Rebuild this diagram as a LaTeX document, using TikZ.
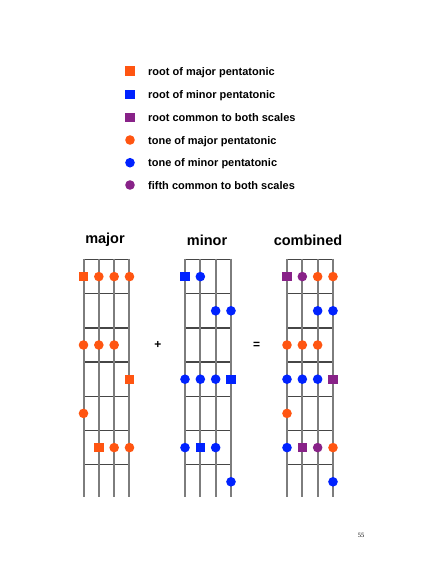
\documentclass[tikz,border=0pt]{standalone}
\usepackage{fontspec}
\setmainfont{Liberation Sans}
\newfontfamily\pnfont{Liberation Serif}
\definecolor{orng}{RGB}{255,85,17}
\definecolor{blu}{RGB}{0,34,255}
\definecolor{purp}{RGB}{136,34,136}
\definecolor{strg}{RGB}{125,125,125}
\definecolor{fretc}{RGB}{70,70,70}
\tikzset{
  dotm/.style={circle, minimum size=9.6pt, inner sep=0pt, draw=none},
  sqm/.style={rectangle, minimum size=9.4pt, inner sep=0pt, draw=none},
  legtext/.style={anchor=base west, inner sep=0pt, font=\fontsize{11}{13}\selectfont\bfseries},
  ttl/.style={inner sep=0pt, font=\fontsize{14.5}{17}\selectfont\bfseries},
  fretline/.style={draw=fretc, line width=1.5pt},
  stringline/.style={draw=strg, line width=2pt},
}
\newcommand\drawboard[1]{%
  \foreach \k in {0,...,6} \draw[fretline] (#1,{259.5+34.2*\k}) -- ({#1+46},{259.5+34.2*\k});
  \foreach \s in {0,...,3} \draw[stringline] ({#1+15.33*\s},258.8) -- ({#1+15.33*\s},497);
}
\begin{document}
\begin{tikzpicture}[x=1pt,y=-1pt]
\useasboundingbox[fill=white] (0,0) rectangle (427,565);
% legend
\node[sqm, fill=orng] (l1) at (130,71) {};
\node[sqm, fill=blu] (l2) at (130,94.5) {};
\node[sqm, fill=purp] (l3) at (130,117.3) {};
\node[dotm, fill=orng] (l4) at (130,140) {};
\node[dotm, fill=blu] (l5) at (130,162.7) {};
\node[dotm, fill=purp] (l6) at (130,185) {};
\node[legtext] (t1) at (148,75) {root of major pentatonic};
\node[legtext] (t2) at (148,98.5) {root of minor pentatonic};
\node[legtext] (t3) at (148,121.3) {root common to both scales};
\node[legtext] (t4) at (148,144) {tone of major pentatonic};
\node[legtext] (t5) at (148,166.7) {tone of minor pentatonic};
\node[legtext] (t6) at (148,189) {fifth common to both scales};
% titles
\node[ttl] (tmaj) at (105,240) {major};
\node[ttl] (tmin) at (207,240) {minor};
\node[ttl] (tcom) at (308,240) {combined};
\node[ttl, font=\fontsize{12}{14}\selectfont\bfseries] (plus) at (158,345) {+};
\node[ttl, font=\fontsize{12}{14}\selectfont\bfseries] (eq) at (256.7,345) {=};
% boards
\drawboard{83.5}
\drawboard{185}
\drawboard{287}
% major
\foreach \r/\s in {1/1,4/4,6/2}
  \node[sqm, fill=orng] (ma-\r-\s) at ({83.5+15.33*(\s-1)},{276.6+34.2*(\r-1)}) {};
\foreach \r/\s in {1/2,1/3,1/4,3/1,3/2,3/3,5/1,6/3,6/4}
  \node[dotm, fill=orng] (ma-\r-\s) at ({83.5+15.33*(\s-1)},{276.6+34.2*(\r-1)}) {};
% minor
\foreach \r/\s in {1/1,4/4,6/2}
  \node[sqm, fill=blu] (mi-\r-\s) at ({185+15.33*(\s-1)},{276.6+34.2*(\r-1)}) {};
\foreach \r/\s in {1/2,2/3,2/4,4/1,4/2,4/3,6/1,6/3,7/4}
  \node[dotm, fill=blu] (mi-\r-\s) at ({185+15.33*(\s-1)},{276.6+34.2*(\r-1)}) {};
% combined
\foreach \r/\s in {1/1,4/4,6/2}
  \node[sqm, fill=purp] (co-\r-\s) at ({287+15.33*(\s-1)},{276.6+34.2*(\r-1)}) {};
\foreach \r/\s/\c in {1/2/purp,1/3/orng,1/4/orng,2/3/blu,2/4/blu,3/1/orng,3/2/orng,3/3/orng,4/1/blu,4/2/blu,4/3/blu,5/1/orng,6/1/blu,6/3/purp,6/4/orng,7/4/blu}
  \node[dotm, fill=\c] (co-\r-\s) at ({287+15.33*(\s-1)},{276.6+34.2*(\r-1)}) {};
% page number
\node[inner sep=0pt, font=\pnfont\fontsize{6.5}{8}\selectfont] (pg) at (361,535) {55};
\end{tikzpicture}
\end{document}
